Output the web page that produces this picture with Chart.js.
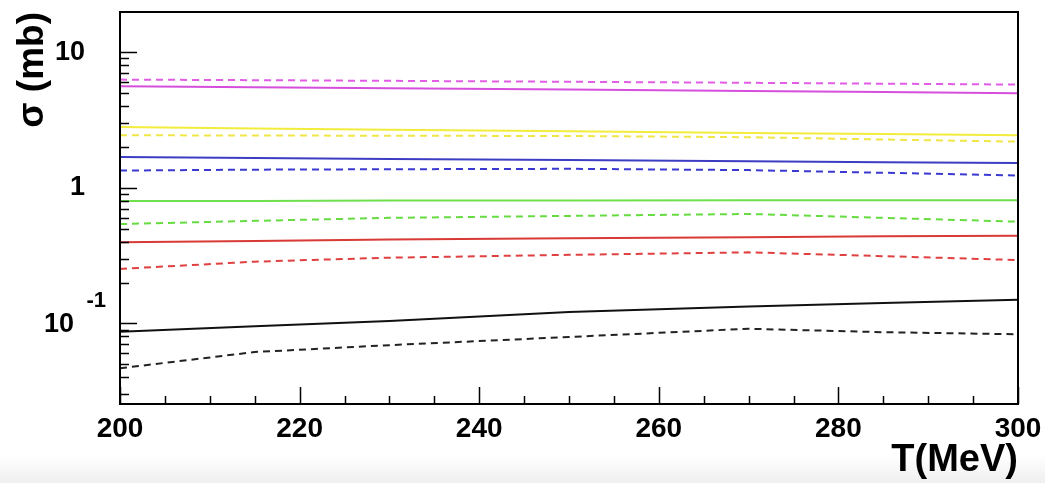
<!DOCTYPE html>
<html>
<head>
<meta charset="utf-8">
<script src="https://cdn.jsdelivr.net/npm/chart.js@4"></script>
<style>
  html, body { margin: 0; padding: 0; }
  body {
    width: 1045px; height: 483px; overflow: hidden;
    background: linear-gradient(to bottom, #ffffff 0px, #ffffff 455px, #efefef 483px);
  }
  #wrap { position: relative; width: 1045px; height: 483px; }
</style>
</head>
<body>
<div id="wrap"><canvas id="sigma-chart" width="1045" height="483"></canvas></div>
<script>
// temperature points (MeV)
const temps = [200, 215, 230, 250, 270, 285, 300];

// cross sections in mb, solid = one set, dashed = the other
const magentaSolid = [5.61, 5.52, 5.42, 5.30, 5.18, 5.08, 4.98];
const magentaDash  = [6.28, 6.22, 6.15, 6.05, 5.95, 5.86, 5.77];
const yellowSolid  = [2.81, 2.74, 2.68, 2.61, 2.54, 2.49, 2.44];
const yellowDash   = [2.44, 2.43, 2.42, 2.41, 2.36, 2.27, 2.19];
const blueSolid    = [1.69, 1.66, 1.63, 1.60, 1.57, 1.545, 1.52];
const blueDash     = [1.34, 1.36, 1.37, 1.38, 1.35, 1.29, 1.23];
const greenSolid   = [0.80, 0.80, 0.805, 0.805, 0.81, 0.81, 0.81];
const greenDash    = [0.54, 0.57, 0.60, 0.62, 0.641, 0.60, 0.562];
const redSolid     = [0.396, 0.405, 0.415, 0.425, 0.432, 0.438, 0.443];
const redDash      = [0.252, 0.285, 0.305, 0.32, 0.334, 0.313, 0.293];
const blackSolid   = [0.0867, 0.095, 0.104, 0.121, 0.133, 0.141, 0.149];
const blackDash    = [0.0466, 0.0614, 0.069, 0.0793, 0.0912, 0.086, 0.083];

const yTicks = [0.1, 1, 10];
const xTicks = [200, 220, 240, 260, 280, 300];

const FONT = "'Liberation Sans', Arial, Helvetica, sans-serif";

function line(data, color, dashed) {
  return {
    data: temps.map((t, i) => ({ x: t, y: data[i] })),
    borderColor: color,
    borderWidth: 2,
    borderDash: dashed ? [7, 5] : [],
    pointRadius: 0,
    tension: 0,
    fill: false
  };
}

// ROOT style frame: ticks drawn inside the frame, 10^-1 label with superscript
const frameTicks = {
  id: 'frameTicks',
  afterDraw(chart) {
    const ctx = chart.ctx;
    const a = chart.chartArea;
    const xs = chart.scales.x, ys = chart.scales.y;
    ctx.save();
    ctx.strokeStyle = '#000';
    ctx.lineWidth = 2;
    ctx.strokeRect(a.left, a.top, a.right - a.left, a.bottom - a.top);

    ctx.lineWidth = 1.5;
    ctx.beginPath();
    for (let t = 200; t <= 300; t += 5) {
      const px = Math.round(xs.getPixelForValue(t)) + 0.5;
      const len = t % 20 === 0 ? 17 : 8;
      ctx.moveTo(px, a.bottom);
      ctx.lineTo(px, a.bottom - len);
    }
    for (let d = -2; d <= 1; d++) {
      for (let m = 1; m <= 9; m++) {
        const v = m * Math.pow(10, d);
        if (v < ys.min || v > ys.max) continue;
        const py = Math.round(ys.getPixelForValue(v)) + 0.5;
        const len = m === 1 ? 17 : 9;
        ctx.moveTo(a.left, py);
        ctx.lineTo(a.left + len, py);
      }
    }
    ctx.stroke();

    // 10^-1 tick label
    const py = ys.getPixelForValue(0.1);
    ctx.fillStyle = '#000';
    ctx.textBaseline = 'middle';
    ctx.textAlign = 'right';
    ctx.font = 'bold 27px ' + FONT;
    ctx.fillText('10', 74, py + 1);
    ctx.font = 'bold 22px ' + FONT;
    ctx.fillText('-1', 106, py - 22);
    ctx.restore();
  }
};

const ctx = document.getElementById('sigma-chart').getContext('2d');
new Chart(ctx, {
  type: 'line',
  data: {
    datasets: [
      line(magentaDash, '#e25ce6', true),
      line(magentaSolid, '#d54fdc', false),
      line(yellowSolid, '#f2ec3c', false),
      line(yellowDash, '#f0e646', true),
      line(blueSolid, '#3d3dc4', false),
      line(blueDash, '#3a3ad2', true),
      line(greenSolid, '#6ee04e', false),
      line(greenDash, '#66dc40', true),
      line(redSolid, '#d83a36', false),
      line(redDash, '#e04040', true),
      line(blackSolid, '#111111', false),
      line(blackDash, '#222222', true)
    ]
  },
  options: {
    responsive: false,
    animation: false,
    devicePixelRatio: 1,
    layout: { padding: { top: 12, right: 27, left: 0, bottom: 0 } },
    plugins: { legend: { display: false }, tooltip: { enabled: false } },
    scales: {
      x: {
        type: 'linear',
        min: 200,
        max: 300,
        afterBuildTicks: s => { s.ticks = xTicks.map(v => ({ value: v })); },
        afterFit: s => { s.height = 79; s.paddingLeft = 0; s.paddingRight = 0; },
        grid: { display: false, drawTicks: false },
        border: { display: false },
        ticks: {
          padding: 8,
          color: '#000',
          font: { family: FONT, size: 28, weight: 'bold' },
          maxRotation: 0
        },
        title: {
          display: true,
          text: 'T(MeV)',
          align: 'end',
          color: '#000',
          padding: 0,
          font: { family: FONT, size: 38, weight: 'bold' }
        }
      },
      y: {
        type: 'logarithmic',
        min: 0.0254,
        max: 19.8,
        afterBuildTicks: s => { s.ticks = yTicks.map(v => ({ value: v })); },
        afterFit: s => { s.width = 120; s.paddingTop = 0; s.paddingBottom = 0; },
        grid: { display: false, drawTicks: false },
        border: { display: false },
        ticks: {
          padding: 35,
          color: '#000',
          font: { family: FONT, size: 27, weight: 'bold' },
          callback: v => (v === 10 ? '10' : v === 1 ? '1' : '')
        },
        title: {
          display: true,
          text: 'σ (mb)',
          align: 'end',
          color: '#000',
          padding: { top: 11 },
          font: { family: FONT, size: 37, weight: 'bold' }
        }
      }
    }
  },
  plugins: [frameTicks]
});
</script>
</body>
</html>
